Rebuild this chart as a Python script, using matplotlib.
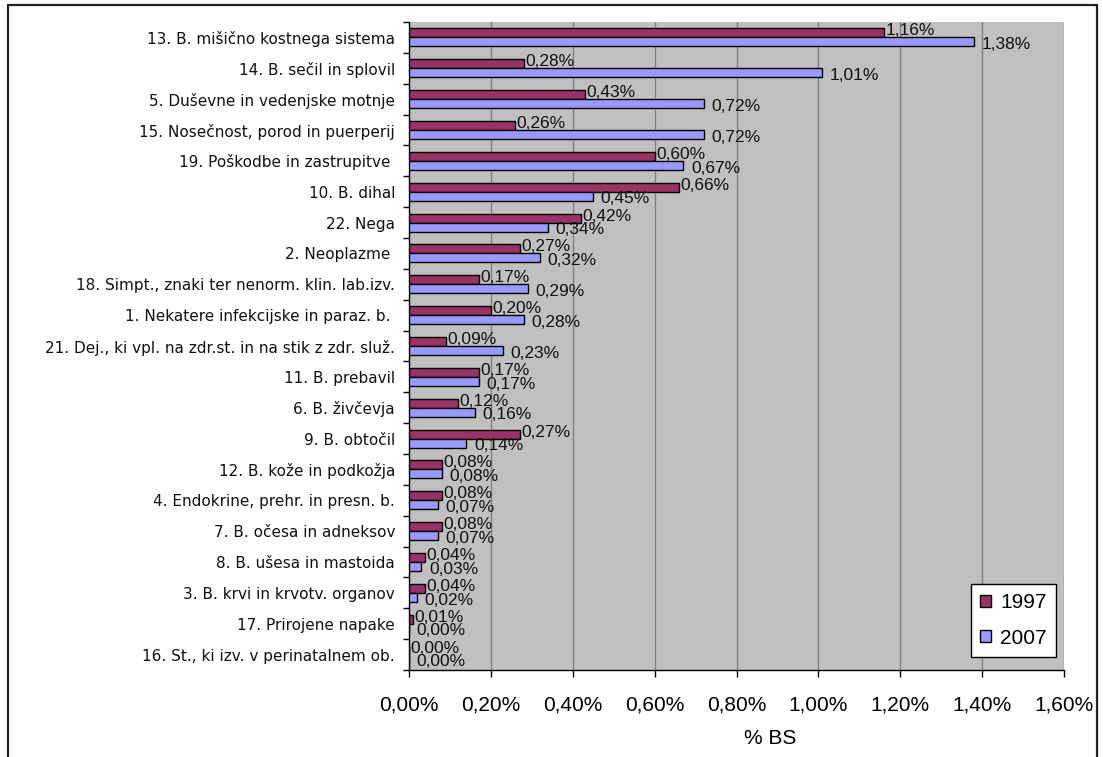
import matplotlib
matplotlib.use("Agg")
import matplotlib.pyplot as plt
from matplotlib.patches import Rectangle
from matplotlib.ticker import FuncFormatter, FixedLocator
import numpy as np

categories = [
    "13. B. mišično kostnega sistema",
    "14. B. sečil in splovil",
    "5. Duševne in vedenjske motnje",
    "15. Nosečnost, porod in puerperij",
    "19. Poškodbe in zastrupitve ",
    "10. B. dihal",
    "22. Nega",
    "2. Neoplazme ",
    "18. Simpt., znaki ter nenorm. klin. lab.izv.",
    "1. Nekatere infekcijske in paraz. b. ",
    "21. Dej., ki vpl. na zdr.st. in na stik z zdr. služ.",
    "11. B. prebavil",
    "6. B. živčevja",
    "9. B. obtočil",
    "12. B. kože in podkožja",
    "4. Endokrine, prehr. in presn. b.",
    "7. B. očesa in adneksov",
    "8. B. ušesa in mastoida",
    "3. B. krvi in krvotv. organov",
    "17. Prirojene napake",
    "16. St., ki izv. v perinatalnem ob.",
]
values_1997 = [1.16, 0.28, 0.43, 0.26, 0.60, 0.66, 0.42, 0.27, 0.17, 0.20, 0.09,
               0.17, 0.12, 0.27, 0.08, 0.08, 0.08, 0.04, 0.04, 0.01, 0.00]
values_2007 = [1.38, 1.01, 0.72, 0.72, 0.67, 0.45, 0.34, 0.32, 0.29, 0.28, 0.23,
               0.17, 0.16, 0.14, 0.08, 0.07, 0.07, 0.03, 0.02, 0.00, 0.00]
series_names = ["1997", "2007"]
x_ticks = [0.0, 0.2, 0.4, 0.6, 0.8, 1.0, 1.2, 1.4, 1.6]
x_label = "% BS"

FONT = "Liberation Sans"
plt.rcParams["font.family"] = [FONT, "DejaVu Sans"]

W, H = 1103, 757
fig = plt.figure(figsize=(W / 100, H / 100), dpi=100)
fig.patch.set_facecolor("white")

# outer chart frame
fig.add_artist(Rectangle((8 / W, -0.02), (1097 - 8) / W, (757 - 5) / H + 0.02,
                         transform=fig.transFigure, fill=False, lw=1.6,
                         ec="#222222", zorder=0))

ax = fig.add_axes([409 / W, 1 - 670 / H, 655 / W, 648 / H])
ax.set_facecolor("#C0C0C0")

n = len(categories)
y = np.arange(n)
bh = 0.29
c1997 = "#993366"
c2007 = "#9999FF"
b1 = ax.barh(y - bh / 2, values_1997, height=bh, color=c1997, edgecolor="black",
             linewidth=1.0, label=series_names[0], zorder=3)
b2 = ax.barh(y + bh / 2, values_2007, height=bh, color=c2007, edgecolor="black",
             linewidth=1.0, label=series_names[1], zorder=3)

def fmt(v):
    return f"{v:.2f}%".replace(".", ",")

for yi, v in zip(y, values_1997):
    ax.annotate(fmt(v), xy=(v, yi - bh / 2), xytext=(1.0, 1.5), textcoords="offset points",
                ha="left", va="center", fontsize=12.5, color="#111111", zorder=5)
for yi, v in zip(y, values_2007):
    ax.annotate(fmt(v), xy=(v, yi + bh / 2), xytext=(5.5, -2), textcoords="offset points",
                ha="left", va="center", fontsize=12.5, color="#111111", zorder=5)

ax.set_xlim(0, 1.6)
ax.set_ylim(n - 0.5, -0.5)
ax.xaxis.set_major_locator(FixedLocator(x_ticks))
ax.xaxis.set_major_formatter(FuncFormatter(lambda v, p: fmt(v)))
ax.grid(axis="x", color="#808080", linewidth=1.0, zorder=1)
ax.set_axisbelow(True)

ax.set_yticks(np.arange(-0.5, n, 1.0))
ax.set_yticklabels([])
ax.set_yticks(y, minor=True)
ax.set_yticklabels(categories, minor=True, fontsize=11, family="DejaVu Sans",
                   color="#111111")
ax.tick_params(axis="y", which="minor", length=0, pad=10)
ax.tick_params(axis="y", which="major", length=4, width=1, direction="out")
ax.tick_params(axis="x", which="major", length=5, width=1, direction="out",
               labelsize=15, pad=13.5)

for s in ["top", "right"]:
    ax.spines[s].set_visible(False)
for s in ["left", "bottom"]:
    ax.spines[s].set_color("black")
    ax.spines[s].set_linewidth(1.0)

ax.set_xlabel(x_label, fontsize=15)
ax.xaxis.set_label_coords((770 - 409) / 655, -(739 - 670) / 648)
ax.xaxis.label.set_va("center")

leg = ax.legend(handles=[b1, b2], loc="lower right",
                bbox_to_anchor=((1056 - 409) / 655, (670 - 657) / 648),
                fontsize=15, frameon=True, fancybox=False, edgecolor="black",
                framealpha=1, handlelength=0.5, handleheight=0.5, handletextpad=0.45,
                labelspacing=0.8, borderpad=0.45, borderaxespad=0)
leg.get_frame().set_linewidth(1.0)

fig.savefig("out.png", dpi=100, facecolor="white")
